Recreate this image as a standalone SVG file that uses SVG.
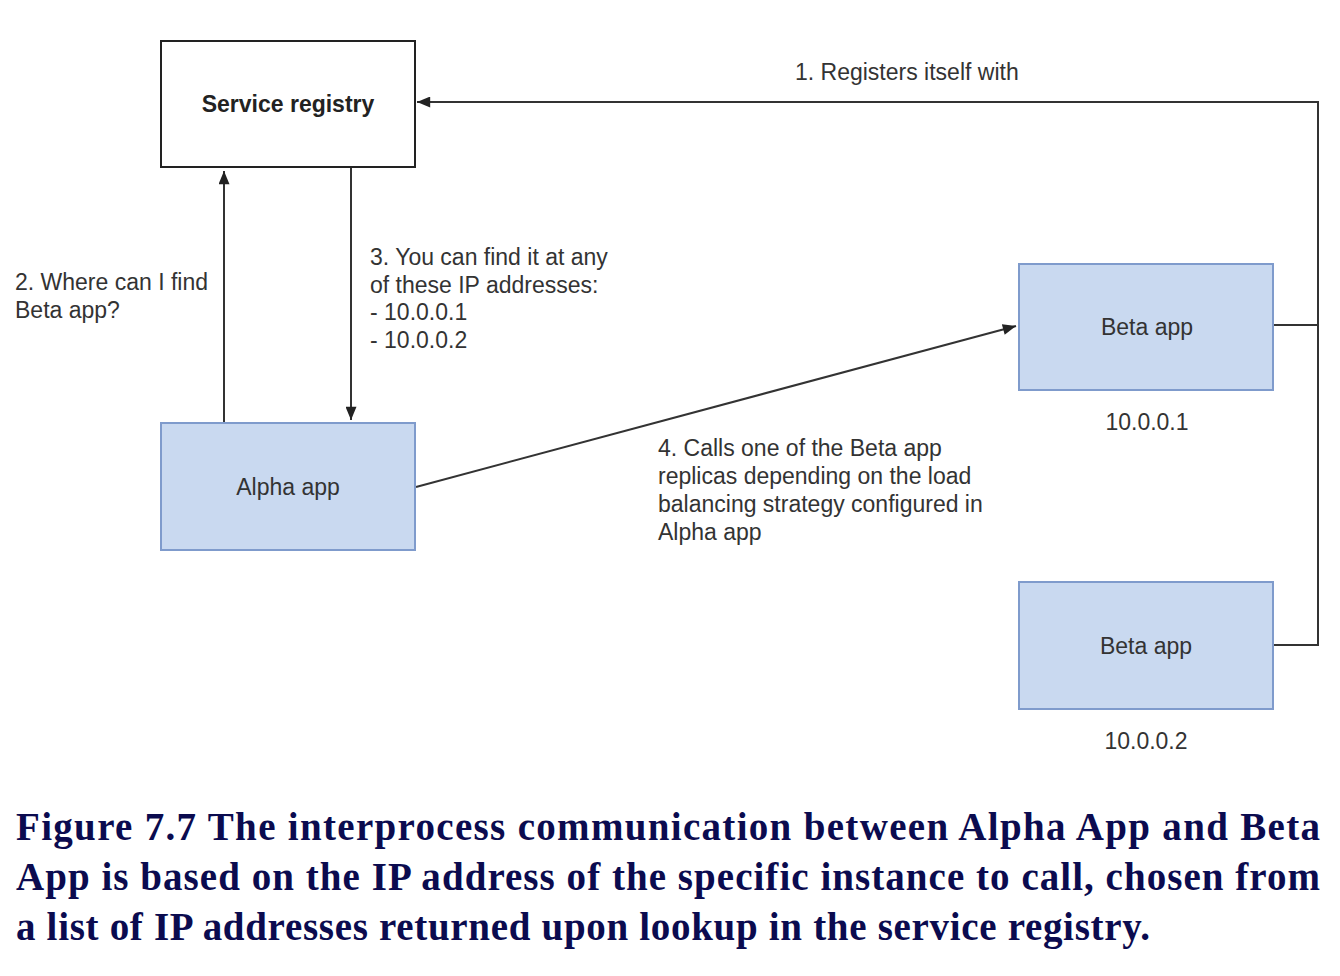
<svg xmlns="http://www.w3.org/2000/svg" width="1340" height="976" viewBox="0 0 1340 976">
<style>
.box{fill:#c9d9f0;stroke:#7f9bcc;stroke-width:2}
.reg{fill:#fff;stroke:#222;stroke-width:2}
.t{font-family:"Liberation Sans",Arial,sans-serif;font-size:23px;fill:#333}
.tb{font-family:"Liberation Sans",Arial,sans-serif;font-size:23px;font-weight:bold;fill:#222}
.ln{fill:none;stroke:#333;stroke-width:2}
.cap{font-family:"Liberation Serif","Times New Roman",serif;font-size:39px;font-weight:bold;fill:#0b0b4f}
</style>
<defs>
<marker id="ah" viewBox="0 0 12 10" refX="12" refY="5" markerWidth="14" markerHeight="11" markerUnits="userSpaceOnUse" orient="auto">
<path d="M0,0 L12,5 L0,10 z" fill="#222"/>
</marker>
</defs>
<g id="connectors">
<polyline class="ln" points="1274,325 1318,325"/>
<polyline class="ln" points="1274,645 1318,645 1318,102 417,102" marker-end="url(#ah)"/>
<line class="ln" x1="224" y1="422" x2="224" y2="171" marker-end="url(#ah)"/>
<line class="ln" x1="351" y1="168" x2="351" y2="420" marker-end="url(#ah)"/>
<line class="ln" x1="416" y1="487" x2="1016" y2="326" marker-end="url(#ah)"/>
<text class="t" x="795" y="80">1. Registers itself with</text>
<text class="t" x="15" y="290">2. Where can I find</text>
<text class="t" x="15" y="318">Beta app?</text>
<text class="t" x="370" y="265">3. You can find it at any</text>
<text class="t" x="370" y="293">of these IP addresses:</text>
<text class="t" x="370" y="320">- 10.0.0.1</text>
<text class="t" x="370" y="348">- 10.0.0.2</text>
<text class="t" x="658" y="456">4. Calls one of the Beta app</text>
<text class="t" x="658" y="484">replicas depending on the load</text>
<text class="t" x="658" y="512">balancing strategy configured in</text>
<text class="t" x="658" y="540">Alpha app</text>
</g>
<g id="service-registry">
<rect class="reg" x="161" y="41" width="254" height="126"/>
<text class="tb" x="288" y="112" text-anchor="middle">Service registry</text>
</g>
<g id="alpha-app">
<rect class="box" x="161" y="423" width="254" height="127"/>
<text class="t" x="288" y="495" text-anchor="middle">Alpha app</text>
</g>
<g id="beta-app-1">
<rect class="box" x="1019" y="264" width="254" height="126"/>
<text class="t" x="1147" y="335" text-anchor="middle">Beta app</text>
<text class="t" x="1147" y="430" text-anchor="middle">10.0.0.1</text>
</g>
<g id="beta-app-2">
<rect class="box" x="1019" y="582" width="254" height="127"/>
<text class="t" x="1146" y="654" text-anchor="middle">Beta app</text>
<text class="t" x="1146" y="749" text-anchor="middle">10.0.0.2</text>
</g>
<g id="caption">
<text class="cap" x="16" y="840" textLength="1304" lengthAdjust="spacing">Figure 7.7 The interprocess communication between Alpha App and Beta</text>
<text class="cap" x="16" y="890" textLength="1304" lengthAdjust="spacing">App is based on the IP address of the specific instance to call, chosen from</text>
<text class="cap" x="16" y="940" textLength="1134" lengthAdjust="spacing">a list of IP addresses returned upon lookup in the service registry.</text>
</g>
</svg>
